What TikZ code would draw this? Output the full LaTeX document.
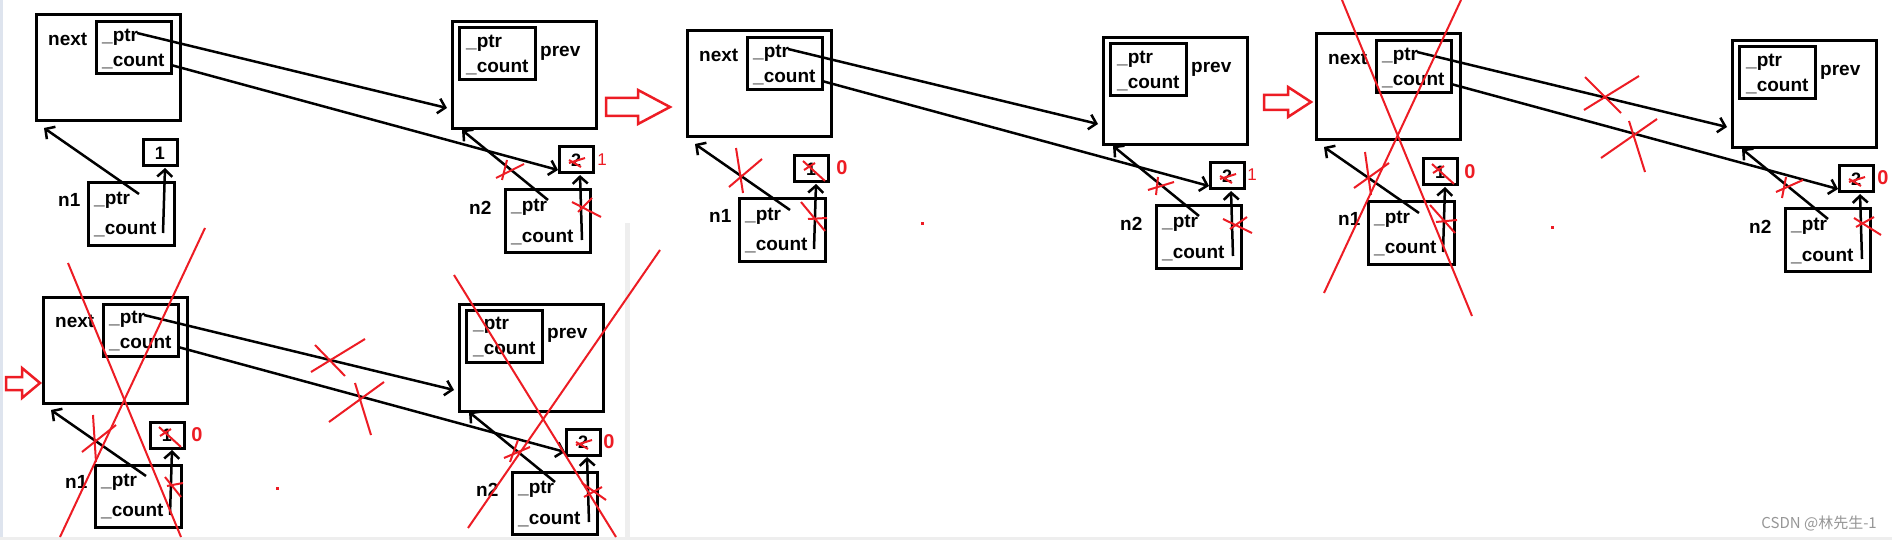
\documentclass[tikz,border=0pt]{standalone}
\usepackage{fontspec}
\setmainfont{Liberation Sans}
\newfontfamily\cjkfont{Noto Sans CJK SC}
\usetikzlibrary{arrows.meta}
\definecolor{pred}{RGB}{237,28,36}
\definecolor{lgrey}{RGB}{238,238,238}
\definecolor{lblue}{RGB}{222,228,238}
\tikzset{
 bx/.style={draw=black, line width=3pt, anchor=north west, inner sep=0pt, outer sep=0pt},
 tx/.style={anchor=west, inner sep=0pt, font=\fontsize{19}{22}\selectfont\bfseries},
 num/.style={anchor=center, inner sep=0pt, font=\fontsize{18}{21}\selectfont\bfseries},
 rnum/.style={anchor=center, inner sep=0pt, text=pred, font=\fontsize{20}{23}\selectfont\bfseries},
 rone/.style={anchor=center, inner sep=0pt, text=pred, font=\fontsize{17}{20}\selectfont},
 arr/.style={draw=black, line width=2.5pt, -{Straight Barb[length=7pt,width=15pt]}},
 rx/.style={draw=pred, line width=2pt},
 bigarrow/.style={draw=pred, line width=2.5pt, fill=white, line join=miter},
}
\newcommand\panelbody{%
 \node[bx, minimum width=144pt, minimum height=106pt] (next) at (0,0) {};
 \node[bx, minimum width=75pt, minimum height=52pt] (nin) at (60,7) {};
 \node[bx, minimum width=144pt, minimum height=107pt] (prev) at (416,7) {};
 \node[bx, minimum width=76pt, minimum height=52pt] (pin) at (423,13) {};
 \node[bx, minimum width=34pt, minimum height=26pt] (c1) at (107,125) {};
 \node[bx, minimum width=86pt, minimum height=62pt] (n1) at (52,168) {};
 \node[bx, minimum width=34pt, minimum height=26pt] (c2) at (523,132) {};
 \node[bx, minimum width=85pt, minimum height=62pt] (n2) at (469,175) {};
 \node[tx] (tnext) at (12,24) {next};
 \node[tx] (tnptr) at (66,22) {\_ptr};
 \node[tx] (tncnt) at (66,46) {\_count};
 \node[tx] (tpptr) at (430,28) {\_ptr};
 \node[tx] (tpcnt) at (430,52) {\_count};
 \node[tx] (tprev) at (504,38) {prev};
 \node[num] (tc1) at (124,138) {1};
 \node[num] (tc2) at (540,145) {2};
 \node[tx] (tn1) at (22,185) {n1};
 \node[tx] (tn1ptr) at (58,185) {\_ptr};
 \node[tx] (tn1cnt) at (58,214) {\_count};
 \node[tx] (tn2) at (433,193) {n2};
 \node[tx] (tn2ptr) at (475,192) {\_ptr};
 \node[tx] (tn2cnt) at (475,222) {\_count};
 \coordinate (a1s) at (101,18);  \coordinate (a1e) at (411,93);
 \coordinate (a2s) at (135,50);  \coordinate (a2e) at (522,155);
 \coordinate (a3s) at (103,179); \coordinate (a3e) at (8,113);
 \coordinate (a4s) at (127,218); \coordinate (a4e) at (129,153);
 \coordinate (a5s) at (512,185); \coordinate (a5e) at (426,115);
 \coordinate (a6s) at (546,225); \coordinate (a6e) at (544,160);
 \draw[arr] (a1s) -- (a1e);
 \draw[arr] (a2s) -- (a2e);
 \draw[arr] (a3s) -- (a3e);
 \draw[arr] (a4s) -- (a4e);
 \draw[arr] (a5s) -- (a5e);
 \draw[arr] (a6s) -- (a6e);
}
\begin{document}
\begin{tikzpicture}[x=1pt,y=-1pt]
\useasboundingbox (0,0) rectangle (1892,540);
\fill[white] (0,0) rectangle (1892,540);
\fill[lblue] (0,0) rectangle (3,537);
\fill[lgrey] (625,223) rectangle (630,537);
\fill[lgrey] (0,537) rectangle (1892,540);

\begin{scope}[shift={(36,15)}, name prefix=p1-]\panelbody\end{scope}
\begin{scope}[shift={(687,31)}, name prefix=p2-]\panelbody\end{scope}
\begin{scope}[shift={(43,297)}, name prefix=p3-]\panelbody\end{scope}
\begin{scope}[shift={(1316,34)}, name prefix=p4-]\panelbody\end{scope}

% red block arrows
\draw[bigarrow] (606,98) -- (638,98) -- (638,90) -- (670,107) -- (638,124) -- (638,116) -- (606,116) -- cycle;
\draw[bigarrow] (6,377) -- (22,377) -- (22,368) -- (40,383) -- (22,398) -- (22,390) -- (6,390) -- cycle;
\draw[bigarrow] (1264,95) -- (1288,95) -- (1288,87) -- (1311,102) -- (1288,117) -- (1288,110) -- (1264,110) -- cycle;

% red labels
\node[rone] (r1) at (602,160) {1};
\node[rnum] (r2) at (842,168) {0};
\node[rone] (r3) at (1252,175) {1};
\node[rnum] (r4) at (197,435) {0};
\node[rnum] (r5) at (609,442) {0};
\node[rnum] (r6) at (1470,172) {0};
\node[rnum] (r7) at (1883,178) {0};

% panel 1 marks
\draw[rx] (496,178) -- (524,164);
\draw[rx] (507,160) -- (502,180);
\draw[rx] (572,202) -- (601,217);
\draw[rx] (578,212) -- (592,198);
\draw[rx] (585,158) -- (569,163);
\draw[rx] (569,160) -- (581,167);

% panel 2 marks
\draw[rx] (736,148) -- (743,193);
\draw[rx] (729,187) -- (762,159);
\draw[rx] (803,161) -- (825,181);
\draw[rx] (804,170) -- (815,163);
\draw[rx] (801,202) -- (825,231);
\draw[rx] (808,219) -- (827,218);
\draw[rx] (1148,190) -- (1174,182);
\draw[rx] (1158,177) -- (1156,195);
\draw[rx] (1236,174) -- (1220,179);
\draw[rx] (1220,176) -- (1232,183);
\draw[rx] (1223,219) -- (1252,233);
\draw[rx] (1230,229) -- (1247,217);
\fill[pred] (920.5,221.5) rectangle (923.5,224.5);

% panel 3 marks
\draw[rx] (68,263) -- (181,537);
\draw[rx] (205,228) -- (60,537);
\draw[rx] (454,275) -- (616,537);
\draw[rx] (660,250) -- (468,528);
\draw[rx] (82,452) -- (116,425);
\draw[rx] (93,415) -- (96,462);
\draw[rx] (159,427) -- (181,447);
\draw[rx] (160,436) -- (171,429);
\draw[rx] (165,477) -- (181,497);
\draw[rx] (167,486) -- (183,483);
\draw[rx] (311,372) -- (365,339);
\draw[rx] (315,345) -- (345,376);
\draw[rx] (329,422) -- (384,382);
\draw[rx] (355,383) -- (371,435);
\draw[rx] (504,458) -- (530,447);
\draw[rx] (518,440) -- (510,462);
\draw[rx] (592,440) -- (576,445);
\draw[rx] (576,442) -- (588,449);
\draw[rx] (582,483) -- (606,500);
\draw[rx] (584,497) -- (602,487);
\fill[pred] (275.5,486.5) rectangle (278.5,489.5);

% panel 4 marks
\draw[rx] (1342,0) -- (1472,316);
\draw[rx] (1461,0) -- (1324,293);
\draw[rx] (1584,110) -- (1639,76);
\draw[rx] (1585,77) -- (1621,113);
\draw[rx] (1601,158) -- (1657,119);
\draw[rx] (1629,121) -- (1645,172);
\draw[rx] (1354,188) -- (1389,163);
\draw[rx] (1365,152) -- (1371,195);
\draw[rx] (1432,164) -- (1454,184);
\draw[rx] (1433,173) -- (1444,166);
\draw[rx] (1430,205) -- (1455,233);
\draw[rx] (1436,222) -- (1457,220);
\draw[rx] (1776,192) -- (1803,180);
\draw[rx] (1786,177) -- (1782,198);
\draw[rx] (1865,177) -- (1849,182);
\draw[rx] (1849,179) -- (1861,186);
\draw[rx] (1854,218) -- (1881,235);
\draw[rx] (1856,227) -- (1874,217);
\fill[pred] (1550.5,225.5) rectangle (1553.5,228.5);

% watermark
\node[anchor=east, inner sep=0pt, text={rgb,255:red,150;green,150;blue,150}, font=\cjkfont\fontsize{15}{18}\selectfont] (wm) at (1877,523) {CSDN @林先生-1};
\end{tikzpicture}
\end{document}
